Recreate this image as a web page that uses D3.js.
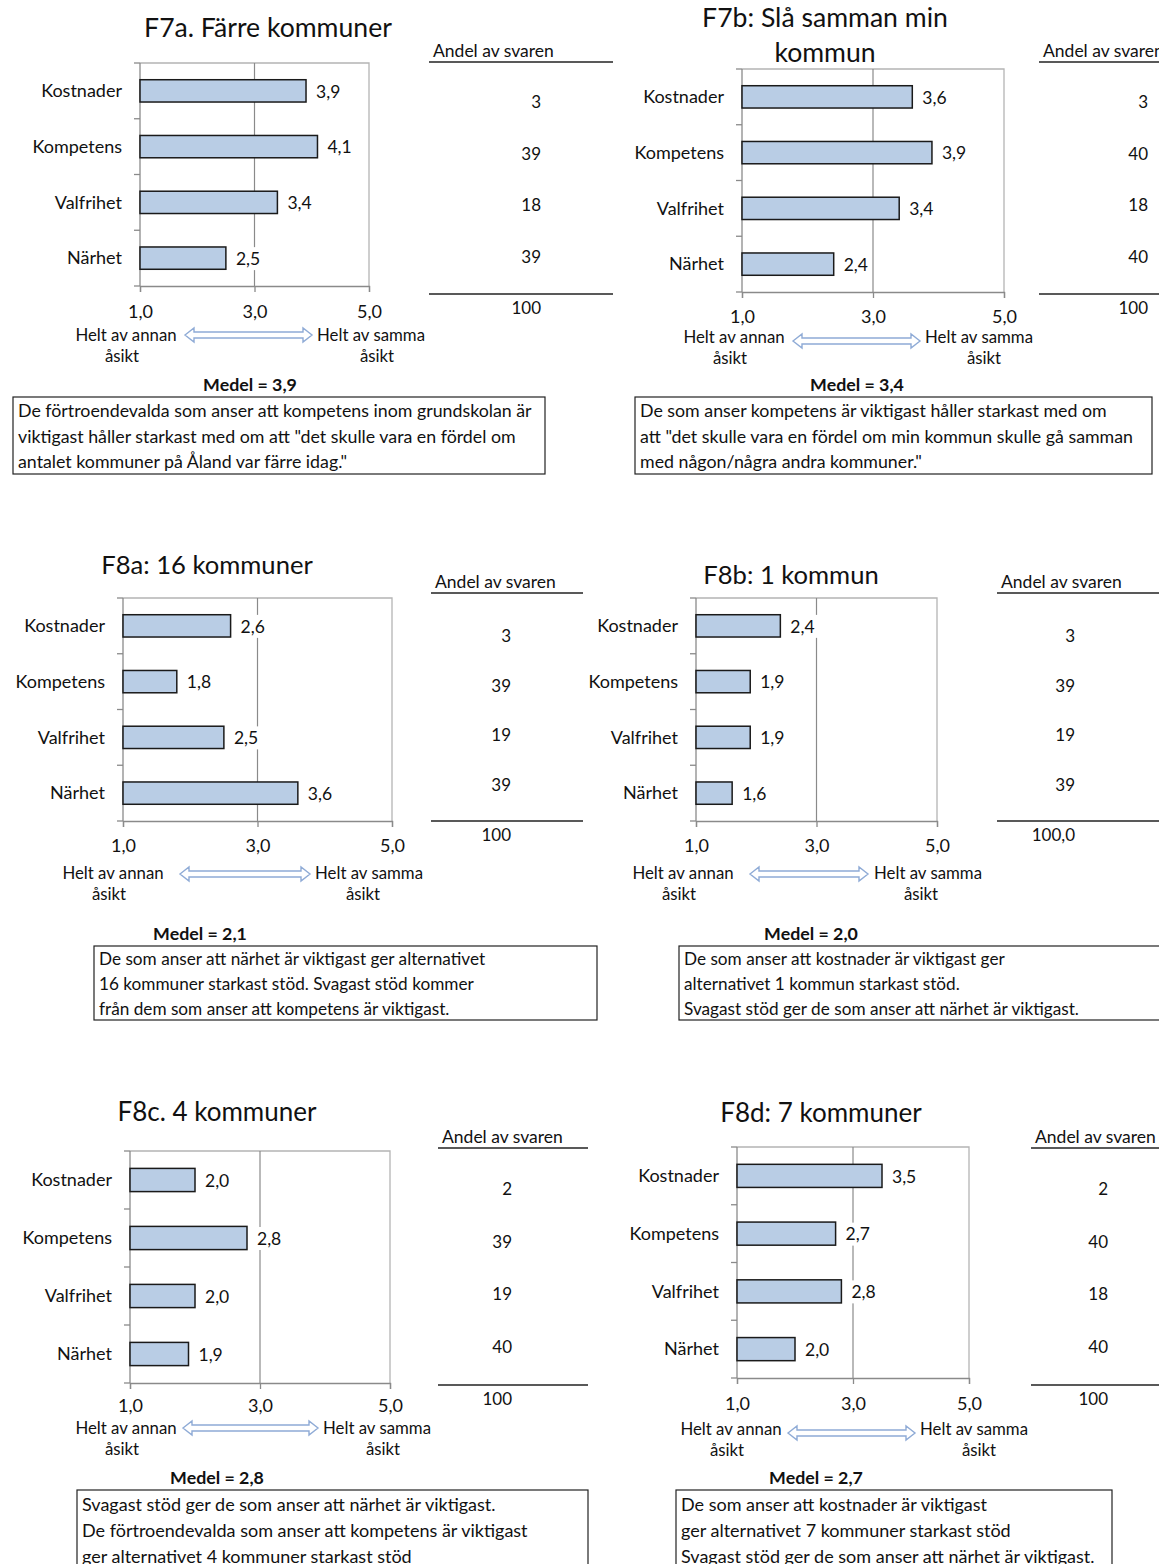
<!DOCTYPE html>
<html>
<head>
<meta charset="utf-8">
<script src="https://cdn.jsdelivr.net/npm/d3@7"></script>
<style>
  body { margin: 0; background: #fff; }
  svg { display: block; font-family: Lato, "Open Sans", sans-serif; }
</style>
</head>
<body>
<svg id="chart" width="1159" height="1564"></svg>
<script>
// ---- data ----
const categories = ["Kostnader", "Kompetens", "Valfrihet", "Närhet"];
const xTicks = [1, 3, 5];

const titles = [
  ["F7a. Färre kommuner"],
  ["F7b: Slå samman min", "kommun"],
  ["F8a: 16 kommuner"],
  ["F8b: 1 kommun"],
  ["F8c. 4 kommuner"],
  ["F8d: 7 kommuner"],
];

const f7aValues = [3.9, 4.1, 3.4, 2.5];
const f7bValues = [3.6, 3.9, 3.4, 2.4];
const f8aValues = [2.6, 1.8, 2.5, 3.6];
const f8bValues = [2.4, 1.9, 1.9, 1.6];
const f8cValues = [2.0, 2.8, 2.0, 1.9];
const f8dValues = [3.5, 2.7, 2.8, 2.0];

const f7aShares = ["3", "39", "18", "39"];
const f7bShares = ["3", "40", "18", "40"];
const f8aShares = ["3", "39", "19", "39"];
const f8bShares = ["3", "39", "19", "39"];
const f8cShares = ["2", "39", "19", "40"];
const f8dShares = ["2", "40", "18", "40"];

const shareTotals = ["100", "100", "100", "100,0", "100", "100"];
const means = [3.9, 3.4, 2.1, 2.0, 2.8, 2.7];

const notes = [
  ["De förtroendevalda som anser att kompetens inom grundskolan är",
   "viktigast håller starkast med om att \"det skulle vara en fördel om",
   "antalet kommuner på Åland var färre idag.\""],
  ["De som anser kompetens är viktigast håller starkast med om",
   "att \"det skulle vara en fördel om min kommun skulle gå samman",
   "med någon/några andra kommuner.\""],
  ["De som anser att närhet är viktigast ger alternativet",
   "16 kommuner starkast stöd. Svagast stöd kommer",
   "från dem som anser att kompetens är viktigast."],
  ["De som anser att kostnader är viktigast ger",
   "alternativet 1 kommun starkast stöd.",
   "Svagast stöd ger de som anser att närhet är viktigast."],
  ["Svagast stöd ger de som anser att närhet är viktigast.",
   "De förtroendevalda som anser att kompetens är viktigast",
   "ger alternativet 4 kommuner starkast stöd"],
  ["De som anser att kostnader är viktigast",
   "ger alternativet 7 kommuner starkast stöd",
   "Svagast stöd ger de som anser att närhet är viktigast."],
];

const panelValues = [f7aValues, f7bValues, f8aValues, f8bValues, f8cValues, f8dValues];
const panelShares = [f7aShares, f7bShares, f8aShares, f8bShares, f8cShares, f8dShares];

// ---- layout (pixel placement of each panel) ----
const layouts = [
  { x0: 140, x1: 369, top: 63, bottom: 286, titleX: 268, titleY: [28], titleSize: 26.6, tickY: 312,
    tx0: 429, tx1: 613, numRight: 541, headY: 62, numY0: 102, numStep: 51.7, botY: 294,
    ax0: 185, ax1: 312, ay: 335, lx: 126, rx: 371, rOff: 6, ly: 335, mx: 250, my: 385,
    box: [13, 397, 532, 77], noteY0: 411, noteStep: 25.5, noteSize: 17.8 },
  { x0: 742, x1: 1004, top: 69, bottom: 292, titleX: 825, titleY: [18, 53], titleSize: 26.6, tickY: 317,
    tx0: 1039, tx1: 1159, numRight: 1148, headY: 62, numY0: 102, numStep: 51.7, botY: 294,
    ax0: 793, ax1: 920, ay: 341, lx: 734, rx: 979, rOff: 5, ly: 337, mx: 857, my: 385,
    box: [635, 397, 517, 77], noteY0: 411, noteStep: 25.5, noteSize: 17.8 },
  { x0: 123, x1: 392, top: 598, bottom: 821, titleX: 207, titleY: [565], titleSize: 25.6, tickY: 846,
    tx0: 431, tx1: 583, numRight: 511, headY: 593, numY0: 636, numStep: 49.7, botY: 821,
    ax0: 180, ax1: 310, ay: 874, lx: 113, rx: 369, rOff: -6, ly: 873, mx: 200, my: 934,
    box: [94, 946, 503, 74], noteY0: 959, noteStep: 25, noteSize: 17.2 },
  { x0: 696, x1: 937, top: 598, bottom: 821, titleX: 791, titleY: [575], titleSize: 25.6, tickY: 846,
    tx0: 997, tx1: 1159, numRight: 1075, headY: 593, numY0: 636, numStep: 49.7, botY: 821,
    ax0: 750, ax1: 868, ay: 874, lx: 683, rx: 928, rOff: -7, ly: 873, mx: 811, my: 934,
    box: [679, 946, 500, 74], noteY0: 959, noteStep: 25, noteSize: 17.2 },
  { x0: 130, x1: 390, top: 1151, bottom: 1383, titleX: 217, titleY: [1112], titleSize: 26, tickY: 1406,
    tx0: 438, tx1: 588, numRight: 512, headY: 1148, numY0: 1189, numStep: 52.7, botY: 1385,
    ax0: 183, ax1: 318, ay: 1428, lx: 126, rx: 377, rOff: 6, ly: 1428, mx: 217, my: 1478,
    box: [77, 1490, 511, 90], noteY0: 1505, noteStep: 26, noteSize: 18 },
  { x0: 737, x1: 969, top: 1147, bottom: 1378, titleX: 821, titleY: [1113], titleSize: 26, tickY: 1404,
    tx0: 1031, tx1: 1159, numRight: 1108, headY: 1148, numY0: 1189, numStep: 52.7, botY: 1385,
    ax0: 788, ax1: 915, ay: 1433, lx: 731, rx: 974, rOff: 5, ly: 1429, mx: 816, my: 1478,
    box: [676, 1490, 436, 90], noteY0: 1505, noteStep: 26, noteSize: 18 },
];

const svLocale = d3.formatLocale({ decimal: ",", thousands: " ", grouping: [3], currency: ["", " kr"] });
const fmt1 = svLocale.format(".1f");

const svg = d3.select("#chart");

function drawArrow(g, x0, x1, y) {
  const hh = 7, sh = 3, hl = 9; // head half-height, shaft half-height, head length
  const p = d3.path();
  p.moveTo(x0, y);
  p.lineTo(x0 + hl, y - hh);
  p.lineTo(x0 + hl, y - sh);
  p.lineTo(x1 - hl, y - sh);
  p.lineTo(x1 - hl, y - hh);
  p.lineTo(x1, y);
  p.lineTo(x1 - hl, y + hh);
  p.lineTo(x1 - hl, y + sh);
  p.lineTo(x0 + hl, y + sh);
  p.lineTo(x0 + hl, y + hh);
  p.closePath();
  g.append("path").attr("d", p.toString())
    .attr("fill", "#fff").attr("stroke", "#8fabd6").attr("stroke-width", 1.4);
}

function drawPanel(i) {
  const L = layouts[i];
  const values = panelValues[i];
  const shares = panelShares[i];
  const g = svg.append("g").attr("id", `panel-${i}`);

  const x = d3.scaleLinear().domain([1, 5]).range([L.x0, L.x1]);
  const y = d3.scaleBand().domain(categories).range([L.top, L.bottom])
    .paddingInner(0.6).paddingOuter(0.3);

  // title
  g.append("text").attr("text-anchor", "middle").attr("font-size", L.titleSize).attr("fill", "#111")
    .selectAll("tspan").data(titles[i]).join("tspan")
    .attr("x", L.titleX).attr("y", (d, k) => L.titleY[k]).attr("dy", "0.35em").text(d => d);

  // plot frame (top + right)
  g.append("path")
    .attr("d", `M${L.x0},${L.top}H${L.x1}V${L.bottom}`)
    .attr("fill", "none").attr("stroke", "#b4b4b4").attr("stroke-width", 1.3);

  // gridline at 3,0
  g.append("line")
    .attr("x1", x(3)).attr("x2", x(3)).attr("y1", L.top).attr("y2", L.bottom)
    .attr("stroke", "#8a8a8a").attr("stroke-width", 1.2);

  // x axis
  const xAxis = d3.axisBottom(x).tickValues(xTicks).tickSize(6).tickFormat(fmt1);
  const xg = g.append("g").attr("transform", `translate(0,${L.bottom})`).call(xAxis);
  xg.select(".domain").attr("stroke", "#8a8a8a").attr("stroke-width", 1.3);
  xg.selectAll(".tick line").attr("stroke", "#8a8a8a").attr("stroke-width", 1.3);
  xg.selectAll(".tick text").attr("font-size", 18).attr("fill", "#111")
    .attr("font-family", "Lato, sans-serif").attr("y", L.tickY - L.bottom).attr("dy", "0.35em");

  // y axis: line + ticks at band boundaries
  const step = y.step();
  g.append("line").attr("x1", L.x0).attr("x2", L.x0).attr("y1", L.top).attr("y2", L.bottom)
    .attr("stroke", "#8a8a8a").attr("stroke-width", 1.3);
  g.selectAll(".ytick").data(d3.range(categories.length + 1)).join("line")
    .attr("class", "ytick")
    .attr("x1", L.x0 - 6).attr("x2", L.x0)
    .attr("y1", k => L.top + k * step).attr("y2", k => L.top + k * step)
    .attr("stroke", "#8a8a8a").attr("stroke-width", 1.3);
  g.selectAll(".ylabel").data(categories).join("text")
    .attr("class", "ylabel")
    .attr("x", L.x0 - 18).attr("y", d => y(d) + y.bandwidth() / 2).attr("dy", "0.35em")
    .attr("text-anchor", "end").attr("font-size", 18).attr("fill", "#111")
    .text(d => d);

  // bars
  const rows = categories.map((c, k) => ({ cat: c, value: values[k] }));
  g.selectAll(".bar").data(rows).join("rect")
    .attr("class", "bar")
    .attr("x", x(1)).attr("y", d => y(d.cat))
    .attr("width", d => x(d.value) - x(1)).attr("height", y.bandwidth())
    .attr("fill", "#b9cde5").attr("stroke", "#1a1a1a").attr("stroke-width", 1.5);

  // value labels with white background (they cover the gridline)
  const lbl = g.selectAll(".vlabel").data(rows).join("g").attr("class", "vlabel")
    .attr("transform", d => `translate(${x(d.value) + 10},${y(d.cat) + y.bandwidth() / 2})`);
  lbl.append("rect").attr("x", -3).attr("y", -11).attr("width", 31).attr("height", 23).attr("fill", "#fff");
  lbl.append("text").attr("dy", "0.38em").attr("font-size", 17.5).attr("fill", "#111")
    .text(d => fmt1(d.value));

  // share table
  g.append("text").attr("x", L.tx0 + 4).attr("y", L.headY - 5)
    .attr("font-size", 17.5).attr("fill", "#111").text("Andel av svaren");
  g.append("line").attr("x1", L.tx0).attr("x2", L.tx1).attr("y1", L.headY).attr("y2", L.headY)
    .attr("stroke", "#222").attr("stroke-width", 1.5);
  g.selectAll(".share").data(shares).join("text")
    .attr("class", "share")
    .attr("x", L.numRight).attr("y", (d, k) => L.numY0 + k * L.numStep).attr("dy", "0.35em")
    .attr("text-anchor", "end").attr("font-size", 17).attr("fill", "#111")
    .text(d => d);
  g.append("line").attr("x1", L.tx0).attr("x2", L.tx1).attr("y1", L.botY).attr("y2", L.botY)
    .attr("stroke", "#222").attr("stroke-width", 1.5);
  g.append("text").attr("x", L.numRight).attr("y", L.botY + 14).attr("dy", "0.35em")
    .attr("text-anchor", "end").attr("font-size", 17).attr("fill", "#111")
    .text(shareTotals[i]);

  // scale explanation
  drawArrow(g, L.ax0, L.ax1, L.ay);
  const side = [
    { cx: L.lx, off: -4, t: "Helt av annan" },
    { cx: L.rx, off: L.rOff, t: "Helt av samma" },
  ];
  side.forEach(s => {
    g.append("text").attr("x", s.cx).attr("y", L.ly).attr("dy", "0.35em")
      .attr("text-anchor", "middle").attr("font-size", 16.8).attr("fill", "#111").text(s.t);
    g.append("text").attr("x", s.cx + s.off).attr("y", L.ly + 21).attr("dy", "0.35em")
      .attr("text-anchor", "middle").attr("font-size", 16.8).attr("fill", "#111").text("åsikt");
  });

  // mean
  g.append("text").attr("x", L.mx).attr("y", L.my).attr("dy", "0.35em")
    .attr("text-anchor", "middle").attr("font-size", 17.8).attr("font-weight", "bold")
    .attr("fill", "#111").text(`Medel = ${fmt1(means[i])}`);

  // note box
  const [bx, by, bw, bh] = L.box;
  g.append("rect").attr("x", bx).attr("y", by).attr("width", bw).attr("height", bh)
    .attr("fill", "#fff").attr("stroke", "#222").attr("stroke-width", 1.2);
  g.selectAll(".note").data(notes[i]).join("text")
    .attr("class", "note")
    .attr("x", bx + 5).attr("y", (d, k) => L.noteY0 + k * L.noteStep).attr("dy", "0.35em")
    .attr("font-size", L.noteSize).attr("fill", "#111")
    .text(d => d);
}

layouts.forEach((L, i) => drawPanel(i));
</script>
</body>
</html>
